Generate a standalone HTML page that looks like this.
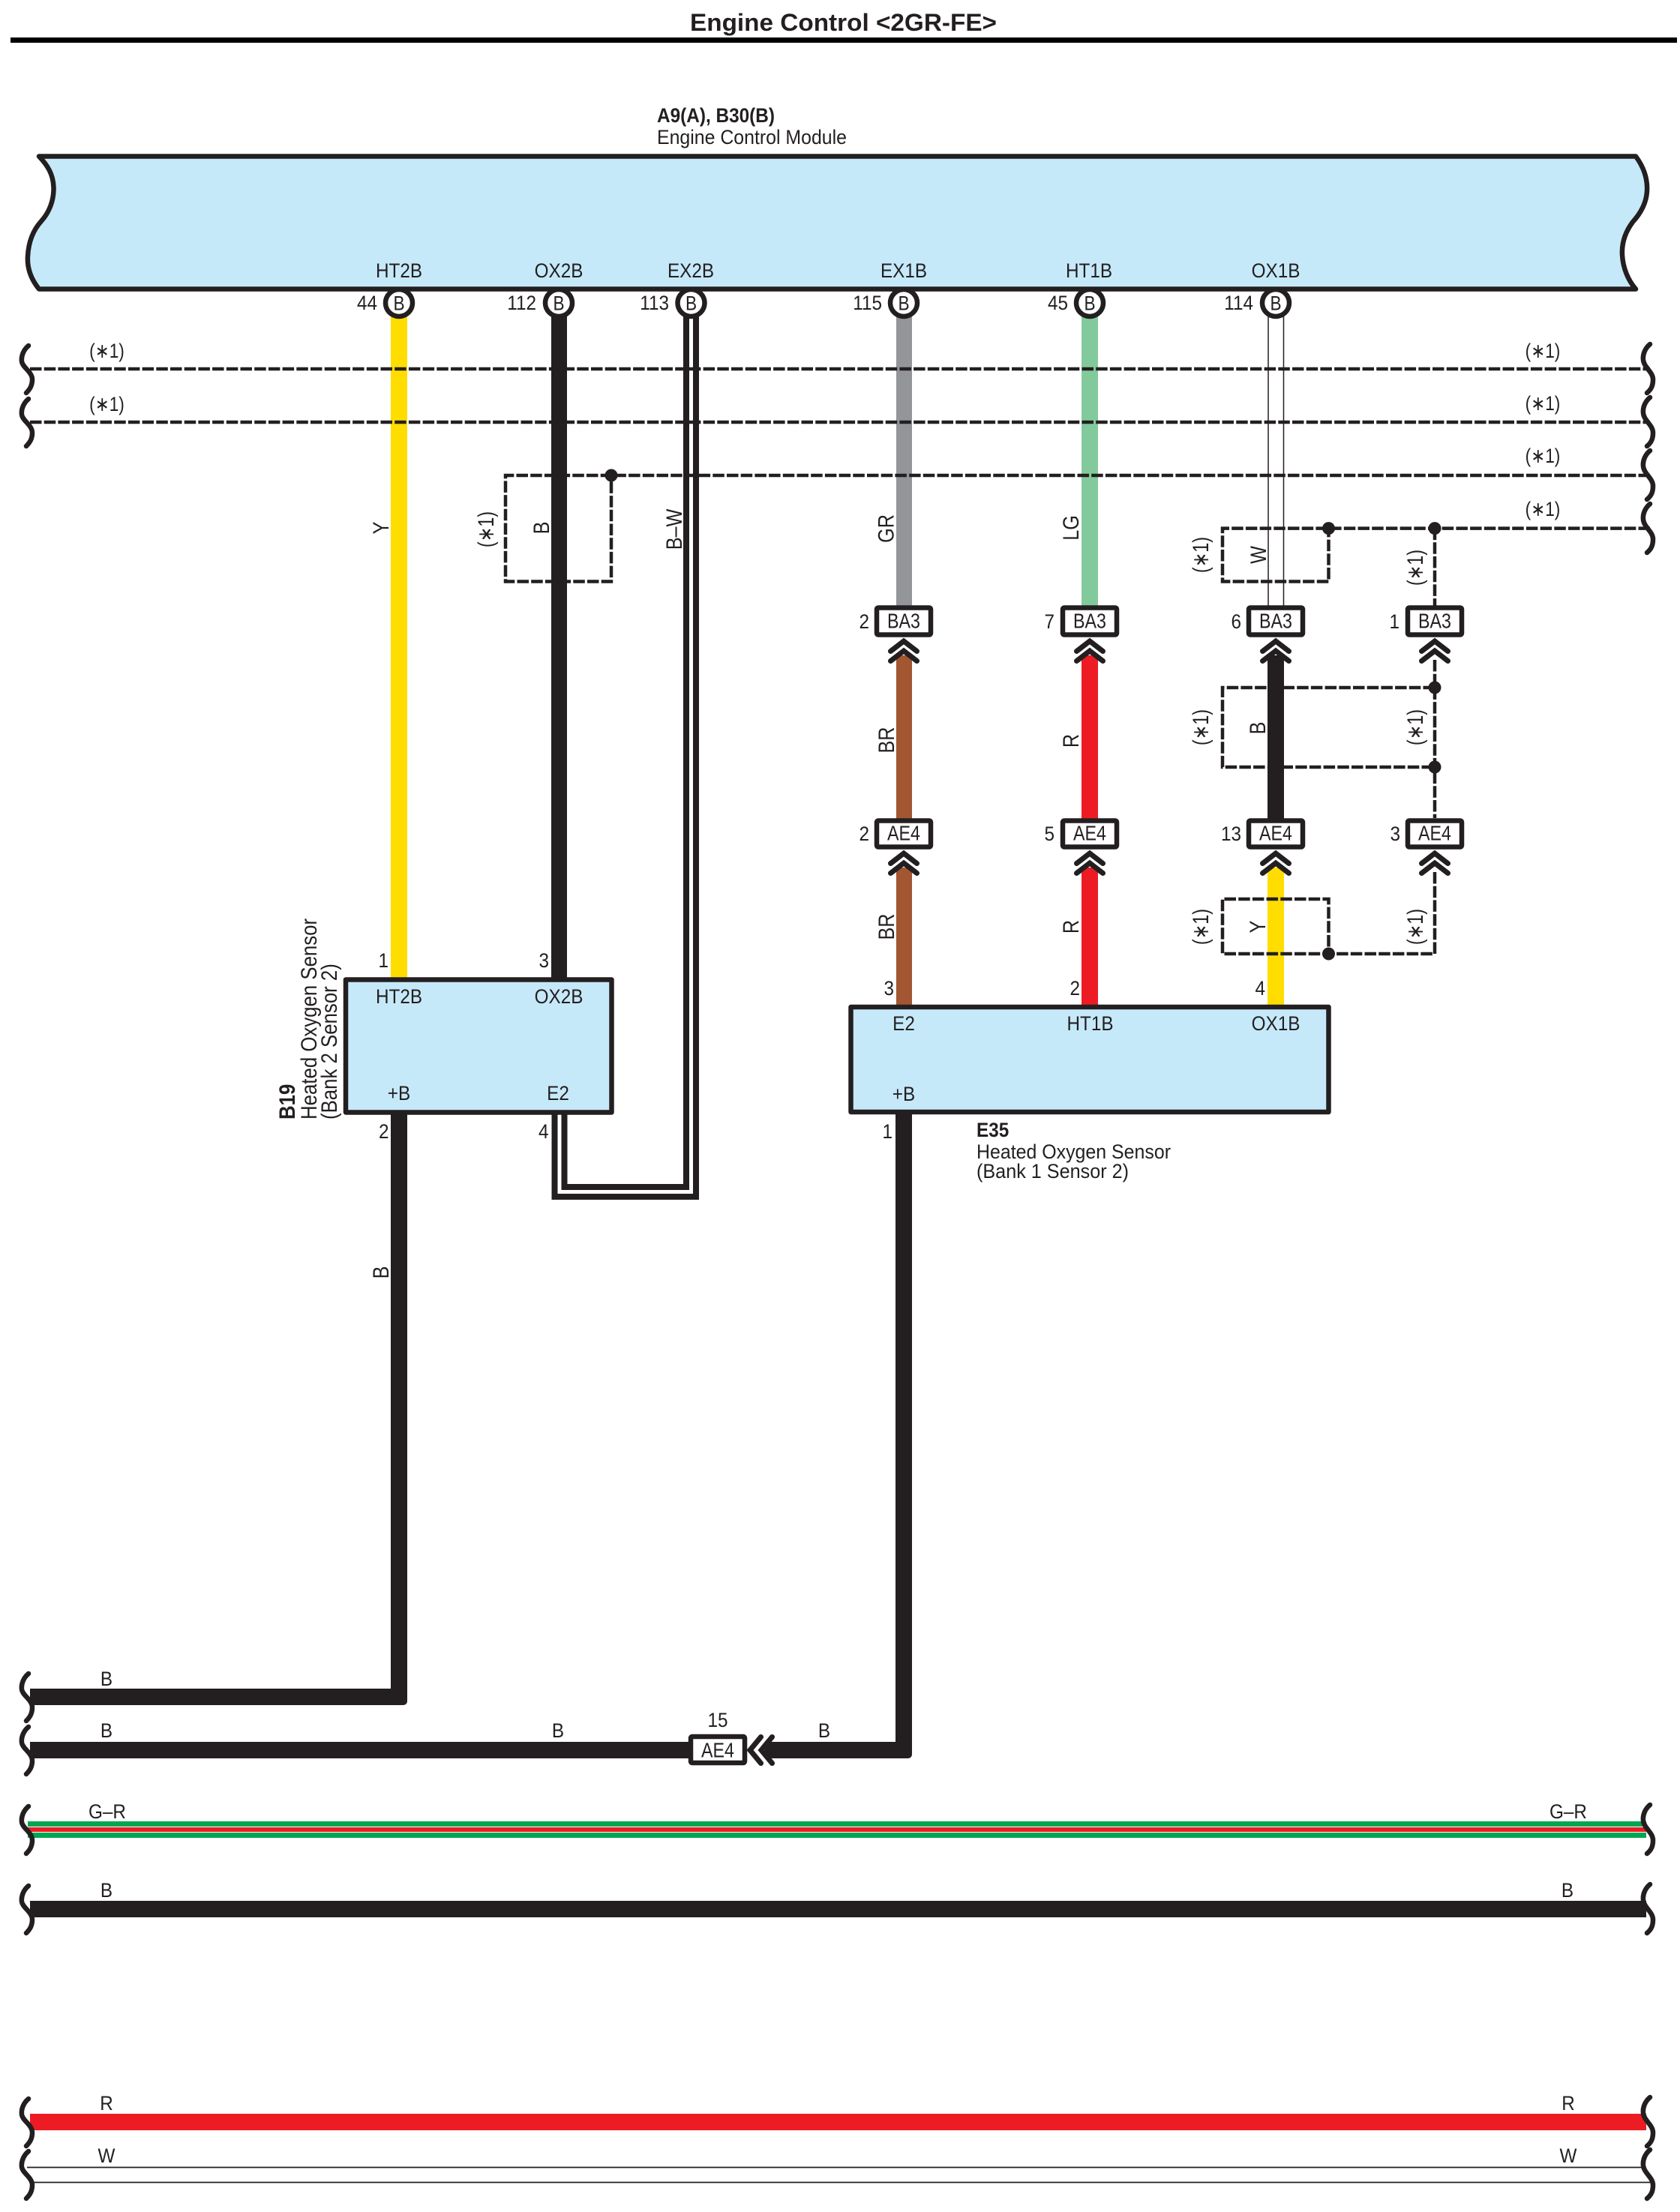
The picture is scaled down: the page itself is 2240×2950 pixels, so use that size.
<!DOCTYPE html>
<html lang="en">
<head>
<meta charset="utf-8">
<title>Engine Control &lt;2GR-FE&gt;</title>
<style>
html,body{margin:0;padding:0;background:#fff}
svg{display:block}
text{font-family:"Liberation Sans",sans-serif;fill:#231f20;font-size:27px}
.m{text-anchor:middle}
.e{text-anchor:end}
.b{font-weight:bold}
.r{font-size:30px;text-anchor:middle}
.rs{font-size:30px}
.k{font-size:28px;text-anchor:middle}
.d{fill:none;stroke:#231f20;stroke-width:4.5;stroke-dasharray:15.5 3.2}
.ch{fill:none;stroke:#231f20;stroke-width:7;stroke-linecap:round;stroke-linejoin:miter}
.box{fill:#fff;stroke:#231f20;stroke-width:6.5}
.c{fill:#fff;stroke:#231f20;stroke-width:6.5}
.br{fill:none;stroke:#231f20;stroke-width:6.5;stroke-linecap:round}
</style>
</head>
<body>
<svg xmlns="http://www.w3.org/2000/svg" width="2240" height="2950" viewBox="0 0 2240 2950">
<defs>
<path id="bl" class="br" d="M38 -31C32 -26 28 -18 29 -10C30 -2 43 4 43 14C43 22 40 27 35 32"/>
<path id="brr" class="br" d="M2200 -33C2194 -28 2190 -20 2191 -12C2192 -2 2204 4 2204 14C2204 22 2202 27 2196 32"/>
<g id="chU"><path class="ch" d="M-17.500 18.500L0 5L17.500 18.500"/><path class="ch" d="M-17.500 31.500L0 18L17.500 31.500"/></g>
</defs>

<!-- header -->
<rect x="14" y="50" width="2222" height="7" fill="#000"/>
<text class="b" x="920" y="41" style="font-size:32px" textLength="409" lengthAdjust="spacingAndGlyphs">Engine Control &lt;2GR-FE&gt;</text>
<text class="b" x="876" y="163" textLength="157" lengthAdjust="spacingAndGlyphs">A9(A), B30(B)</text>
<text x="876" y="192" textLength="253" lengthAdjust="spacingAndGlyphs">Engine Control Module</text>

<!-- module -->
<path fill="#c6e9fa" stroke="#231f20" stroke-width="6.5" stroke-linejoin="round" d="M52 208.5H2181C2191 222 2197 238 2196 255C2195 272 2187 285 2177 296C2168 308 2162 322 2163 340C2164 358 2171 374 2181 385.5H52C42 373 36 358 37 342C38 322 45 306 55 295C65 284 72 268 71.500 250C71 232 63 220 52 208.5Z"/>

<!-- vertical wires from module -->
<rect x="521" y="420" width="22" height="885" fill="#ffdd00"/>
<rect x="735" y="420" width="21" height="885" fill="#231f20"/>
<path d="M921.500 420V1589.500H746V1485" fill="none" stroke="#231f20" stroke-width="21"/>
<path d="M921.500 420V1589.500H746V1485" fill="none" stroke="#fff" stroke-width="5"/>
<rect x="1195" y="420" width="21" height="392" fill="#939598"/>
<rect x="1442" y="420" width="22" height="392" fill="#82ca9c"/>
<path d="M1691 420V812M1711.500 420V812" fill="none" stroke="#231f20" stroke-width="1.500"/>

<!-- segments between connectors -->
<rect x="1195" y="874" width="21" height="220" fill="#a25632"/>
<rect x="1442" y="874" width="22" height="220" fill="#ed1c24"/>
<rect x="1690" y="874" width="22" height="220" fill="#231f20"/>
<rect x="1195" y="1157" width="21" height="186" fill="#a25632"/>
<rect x="1442" y="1157" width="22" height="186" fill="#ed1c24"/>
<rect x="1690" y="1157" width="22" height="186" fill="#ffdd00"/>

<!-- lower black wires -->
<path fill="#231f20" d="M40 2252H521V1480H543V2268Q543 2274 537 2274H40Z"/>
<path fill="#231f20" d="M40 2323H925V2345H40Z"/>
<path fill="#231f20" d="M1020 2323H1194V1480H1216V2339Q1216 2345 1210 2345H1020Z"/>

<!-- long bus wires -->
<rect x="37" y="2429" width="2158" height="22" fill="#00a651"/>
<rect x="37" y="2436" width="2158" height="8" fill="#fff"/>
<rect x="37" y="2437" width="2158" height="6" fill="#ed1c24"/>
<rect x="40" y="2535" width="2155" height="22" fill="#231f20"/>
<rect x="40" y="2819" width="2155" height="22" fill="#ed1c24"/>
<path d="M36 2890.500H2190M43 2910.500H2203" stroke="#231f20" stroke-width="1.800" fill="none"/>

<!-- dashed harness lines -->
<path class="d" d="M40 492H2200"/>
<path class="d" d="M40 563H2200"/>
<path class="d" d="M2200 634H674V775.500H815V634"/>
<path class="d" d="M2200 704.600H1630V775.500H1771.500V704.600"/>
<path class="d" d="M1913 704.600V808"/>
<path class="d" d="M1913 917H1630V1023H1913"/>
<path class="d" d="M1913 880V1091"/>
<path class="d" d="M1913 1163V1272H1630V1199H1771.500V1272"/>
<g fill="#231f20">
<circle cx="815" cy="634" r="8.500"/>
<circle cx="1771.500" cy="704.600" r="8.500"/>
<circle cx="1913" cy="704.600" r="8.500"/>
<circle cx="1913" cy="917" r="8.500"/>
<circle cx="1913" cy="1023" r="8.500"/>
<circle cx="1771.500" cy="1272" r="8.500"/>
</g>

<!-- braces -->
<use href="#bl" y="492"/><use href="#bl" y="563"/>
<use href="#bl" y="2263"/><use href="#bl" y="2334"/>
<use href="#bl" y="2440"/><use href="#bl" y="2546"/>
<use href="#bl" y="2830"/><use href="#bl" y="2900"/>
<use href="#brr" y="492"/><use href="#brr" y="563"/><use href="#brr" y="634"/><use href="#brr" y="705"/>
<use href="#brr" y="2440"/><use href="#brr" y="2546"/><use href="#brr" y="2830"/><use href="#brr" y="2900"/>

<!-- module terminals -->
<circle class="c" cx="532" cy="404" r="18"/>
<circle class="c" cx="745" cy="404" r="18"/>
<circle class="c" cx="921.500" cy="404" r="18"/>
<circle class="c" cx="1205" cy="404" r="18"/>
<circle class="c" cx="1453" cy="404" r="18"/>
<circle class="c" cx="1701" cy="404" r="18"/>
<text class="m" transform="translate(532 413.500) scale(.84 1)">B</text>
<text class="m" transform="translate(745 413.500) scale(.84 1)">B</text>
<text class="m" transform="translate(921.500 413.500) scale(.84 1)">B</text>
<text class="m" transform="translate(1205 413.500) scale(.84 1)">B</text>
<text class="m" transform="translate(1453 413.500) scale(.84 1)">B</text>
<text class="m" transform="translate(1701 413.500) scale(.84 1)">B</text>

<text class="m" transform="translate(532 370) scale(.9 1)">HT2B</text>
<text class="m" transform="translate(745 370) scale(.9 1)">OX2B</text>
<text class="m" transform="translate(921 370) scale(.9 1)">EX2B</text>
<text class="m" transform="translate(1205 370) scale(.9 1)">EX1B</text>
<text class="m" transform="translate(1452 370) scale(.9 1)">HT1B</text>
<text class="m" transform="translate(1701 370) scale(.9 1)">OX1B</text>

<text class="e" transform="translate(503 413) scale(.9 1)">44</text>
<text class="e" transform="translate(715 413) scale(.9 1)">112</text>
<text class="e" transform="translate(892 413) scale(.9 1)">113</text>
<text class="e" transform="translate(1176 413) scale(.9 1)">115</text>
<text class="e" transform="translate(1424 413) scale(.9 1)">45</text>
<text class="e" transform="translate(1671 413) scale(.9 1)">114</text>

<!-- (*1) horizontal -->
<text class="m" transform="translate(142.500 477) scale(.84 1)">(∗1)</text>
<text class="m" transform="translate(142.500 548) scale(.84 1)">(∗1)</text>
<text class="m" transform="translate(2057 477) scale(.84 1)">(∗1)</text>
<text class="m" transform="translate(2057 547) scale(.84 1)">(∗1)</text>
<text class="m" transform="translate(2057 617) scale(.84 1)">(∗1)</text>
<text class="m" transform="translate(2057 688) scale(.84 1)">(∗1)</text>

<!-- connector boxes -->
<g>
<rect class="box" x="1169" y="810.500" width="72" height="36" rx="2"/>
<rect class="box" x="1417" y="810.500" width="72" height="36" rx="2"/>
<rect class="box" x="1665" y="810.500" width="72" height="36" rx="2"/>
<rect class="box" x="1877" y="810.500" width="72" height="36" rx="2"/>
<rect class="box" x="1169" y="1094.500" width="72" height="35" rx="2"/>
<rect class="box" x="1417" y="1094.500" width="72" height="35" rx="2"/>
<rect class="box" x="1665" y="1094.500" width="72" height="35" rx="2"/>
<rect class="box" x="1877" y="1094.500" width="72" height="35" rx="2"/>
</g>
<use href="#chU" x="1205" y="850"/><use href="#chU" x="1453" y="850"/><use href="#chU" x="1701" y="850"/><use href="#chU" x="1913" y="850"/>
<use href="#chU" x="1205" y="1133"/><use href="#chU" x="1453" y="1133"/><use href="#chU" x="1701" y="1133"/><use href="#chU" x="1913" y="1133"/>

<text class="k" transform="translate(1205 837.500) scale(.83 1)">BA3</text>
<text class="k" transform="translate(1453 837.500) scale(.83 1)">BA3</text>
<text class="k" transform="translate(1701 837.500) scale(.83 1)">BA3</text>
<text class="k" transform="translate(1913 837.500) scale(.83 1)">BA3</text>
<text class="k" transform="translate(1205 1120.500) scale(.83 1)">AE4</text>
<text class="k" transform="translate(1453 1120.500) scale(.83 1)">AE4</text>
<text class="k" transform="translate(1701 1120.500) scale(.83 1)">AE4</text>
<text class="k" transform="translate(1913 1120.500) scale(.83 1)">AE4</text>

<text class="e" transform="translate(1159 838) scale(.9 1)">2</text>
<text class="e" transform="translate(1406 838) scale(.9 1)">7</text>
<text class="e" transform="translate(1655 838) scale(.9 1)">6</text>
<text class="e" transform="translate(1866 838) scale(.9 1)">1</text>
<text class="e" transform="translate(1159 1121) scale(.9 1)">2</text>
<text class="e" transform="translate(1406 1121) scale(.9 1)">5</text>
<text class="e" transform="translate(1655 1121) scale(.9 1)">13</text>
<text class="e" transform="translate(1867 1121) scale(.9 1)">3</text>

<!-- B19 sensor -->
<rect x="461" y="1306.500" width="354.500" height="177" fill="#c6e9fa" stroke="#231f20" stroke-width="6.500" stroke-linejoin="round"/>
<text class="m" transform="translate(532 1338) scale(.9 1)">HT2B</text>
<text class="m" transform="translate(745 1338) scale(.9 1)">OX2B</text>
<text class="m" transform="translate(532 1467) scale(.9 1)">+B</text>
<text class="m" transform="translate(744 1467) scale(.9 1)">E2</text>
<text class="e" transform="translate(518 1290) scale(.9 1)">1</text>
<text class="e" transform="translate(732 1290) scale(.9 1)">3</text>
<text class="e" transform="translate(518.500 1518) scale(.9 1)">2</text>
<text class="e" transform="translate(731.500 1518) scale(.9 1)">4</text>
<text class="rs b" transform="translate(393 1493) rotate(-90) scale(.86 1)">B19</text>
<text class="rs" transform="translate(422 1493) rotate(-90) scale(.86 1)">Heated Oxygen Sensor</text>
<text class="rs" transform="translate(449 1493) rotate(-90) scale(.86 1)">(Bank 2 Sensor 2)</text>

<!-- E35 sensor -->
<rect x="1134.500" y="1343" width="637" height="140" fill="#c6e9fa" stroke="#231f20" stroke-width="6.500" stroke-linejoin="round"/>
<text class="m" transform="translate(1205 1374) scale(.9 1)">E2</text>
<text class="m" transform="translate(1453.500 1374) scale(.9 1)">HT1B</text>
<text class="m" transform="translate(1701 1374) scale(.9 1)">OX1B</text>
<text class="m" transform="translate(1205 1468) scale(.9 1)">+B</text>
<text class="e" transform="translate(1192 1327) scale(.9 1)">3</text>
<text class="e" transform="translate(1440 1327) scale(.9 1)">2</text>
<text class="e" transform="translate(1687 1327) scale(.9 1)">4</text>
<text class="e" transform="translate(1190 1518) scale(.9 1)">1</text>
<text class="b" transform="translate(1302 1516) scale(.9 1)">E35</text>
<text x="1302" y="1545" textLength="259" lengthAdjust="spacingAndGlyphs">Heated Oxygen Sensor</text>
<text x="1302" y="1571" textLength="203" lengthAdjust="spacingAndGlyphs">(Bank 1 Sensor 2)</text>

<!-- rotated wire labels -->
<text class="r" transform="translate(518 704) rotate(-90) scale(.84 1)">Y</text>
<text class="r" transform="translate(732 704) rotate(-90) scale(.84 1)">B</text>
<text class="r" transform="translate(658 706) rotate(-90) scale(.78 1)">(∗1)</text>
<text class="r" transform="translate(909 706) rotate(-90) scale(.84 1)">B–W</text>
<text class="r" transform="translate(1191.500 705) rotate(-90) scale(.84 1)">GR</text>
<text class="r" transform="translate(1438 704) rotate(-90) scale(.84 1)">LG</text>
<text class="r" transform="translate(1688 740) rotate(-90) scale(.84 1)">W</text>
<text class="r" transform="translate(1611 740) rotate(-90) scale(.78 1)">(∗1)</text>
<text class="r" transform="translate(1897 757) rotate(-90) scale(.78 1)">(∗1)</text>
<text class="r" transform="translate(1192 987) rotate(-90) scale(.84 1)">BR</text>
<text class="r" transform="translate(1192 1236) rotate(-90) scale(.84 1)">BR</text>
<text class="r" transform="translate(1438 988) rotate(-90) scale(.84 1)">R</text>
<text class="r" transform="translate(1438 1236) rotate(-90) scale(.84 1)">R</text>
<text class="r" transform="translate(1687 971) rotate(-90) scale(.84 1)">B</text>
<text class="r" transform="translate(1687 1236) rotate(-90) scale(.84 1)">Y</text>
<text class="r" transform="translate(1611 970) rotate(-90) scale(.78 1)">(∗1)</text>
<text class="r" transform="translate(1611 1236) rotate(-90) scale(.78 1)">(∗1)</text>
<text class="r" transform="translate(1897 970) rotate(-90) scale(.78 1)">(∗1)</text>
<text class="r" transform="translate(1897 1236) rotate(-90) scale(.78 1)">(∗1)</text>
<text class="r" transform="translate(518 1697) rotate(-90) scale(.84 1)">B</text>

<!-- lower connector AE4 (horizontal) -->
<rect class="box" x="921" y="2316" width="72" height="35" rx="2"/>
<path class="ch" d="M1014.500 2316.500L1000 2334L1014.500 2351.500"/>
<path class="ch" d="M1029.500 2316.500L1015 2334L1029.500 2351.500"/>
<text class="k" transform="translate(957 2343.500) scale(.83 1)">AE4</text>
<text class="m" transform="translate(957 2303) scale(.9 1)">15</text>

<!-- horizontal labels -->
<text class="m" transform="translate(142 2248) scale(.9 1)">B</text>
<text class="m" transform="translate(142 2317) scale(.9 1)">B</text>
<text class="m" transform="translate(744 2317) scale(.9 1)">B</text>
<text class="m" transform="translate(1099 2317) scale(.9 1)">B</text>
<text class="m" transform="translate(143 2425) scale(.9 1)">G–R</text>
<text class="m" transform="translate(2091 2425) scale(.9 1)">G–R</text>
<text class="m" transform="translate(142 2530) scale(.9 1)">B</text>
<text class="m" transform="translate(2090 2530) scale(.9 1)">B</text>
<text class="m" transform="translate(142 2814) scale(.9 1)">R</text>
<text class="m" transform="translate(2091 2814) scale(.9 1)">R</text>
<text class="m" transform="translate(142 2884) scale(.9 1)">W</text>
<text class="m" transform="translate(2091 2884) scale(.9 1)">W</text>
</svg>
</body>
</html>
